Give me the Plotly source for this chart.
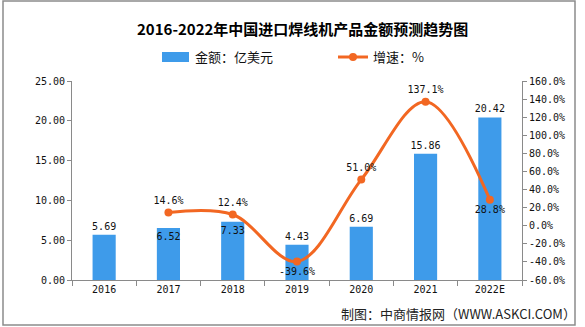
import plotly.graph_objects as go

# Import value of wire bonders (100 million USD) and year-on-year growth (%)
years = ["2016", "2017", "2018", "2019", "2020", "2021", "2022E"]
amount = [5.69, 6.52, 7.33, 4.43, 6.69, 15.86, 20.42]
growth_years = ["2017", "2018", "2019", "2020", "2021", "2022E"]
growth = [14.6, 12.4, -39.6, 51.0, 137.1, 28.8]

title_text = "2016-2022年中国进口焊线机产品金额预测趋势图"
legend_amount = "金额：亿美元"
legend_growth = "增速：%"
source_text = "制图：中商情报网（WWW.ASKCI.COM）"

W, H = 585, 327
ML, MR, MT, MB = 72, 63, 81, 47
PW, PH = W - ML - MR, H - MT - MB

BAR_COLOR = "#3e9bea"
LINE_COLOR = "#f26722"
AXIS_COLOR = "#8a8a8a"
MONO = "DejaVu Sans Mono"
CJK = "Noto Sans CJK SC"


def px_x(px):
    return (px - ML) / PW


def px_y(py):
    return (H - MB - py) / PH


fig = go.Figure()

bar_pos = ["outside", "inside", "inside", "outside", "outside", "outside", "outside"]
fig.add_trace(go.Bar(
    x=years, y=amount, name=legend_amount,
    marker=dict(color=BAR_COLOR, line=dict(width=0)),
    width=0.36,
    text=[f"{v:.2f}" for v in amount],
    textposition=bar_pos,
    insidetextanchor="end",
    textangle=0,
    constraintext="none",
    cliponaxis=False,
    textfont=dict(family=MONO, size=10, color="#111"),
    showlegend=False,
))

line_pos = ["top center", "top center", "bottom center", "top center", "top center", "bottom center"]
fig.add_trace(go.Scatter(
    x=growth_years, y=growth, name=legend_growth, yaxis="y2",
    mode="lines+markers+text",
    line=dict(color=LINE_COLOR, width=3, shape="spline", smoothing=1.0),
    marker=dict(color=LINE_COLOR, size=8),
    text=[f"{v:.1f}%" for v in growth],
    textposition=line_pos,
    cliponaxis=False,
    textfont=dict(family=MONO, size=10, color="#111"),
    showlegend=False,
))

fig.update_layout(
    width=W, height=H,
    margin=dict(l=ML, r=MR, t=MT, b=MB),
    paper_bgcolor="white", plot_bgcolor="white",
    bargap=0.64,
    xaxis=dict(
        type="category", range=[-0.5, 6.5],
        showline=True, linecolor=AXIS_COLOR, linewidth=1,
        ticks="outside", tickson="boundaries", ticklen=5, tickcolor=AXIS_COLOR,
        showgrid=False, zeroline=False,
        tickfont=dict(family=MONO, size=10, color="#111"),
    ),
    yaxis=dict(
        range=[0, 25], dtick=5, tickformat=".2f",
        showline=True, linecolor=AXIS_COLOR, linewidth=1,
        ticks="outside", ticklen=4, tickcolor=AXIS_COLOR,
        showgrid=False, zeroline=False,
        tickfont=dict(family=MONO, size=10, color="#111"),
    ),
    yaxis2=dict(
        range=[-60, 160], overlaying="y", side="right",
        tickvals=list(range(-60, 161, 20)),
        ticktext=[f"{v:.1f}%" for v in range(-60, 161, 20)],
        showline=True, linecolor=AXIS_COLOR, linewidth=1,
        ticks="outside", ticklen=4, tickcolor=AXIS_COLOR,
        showgrid=False, zeroline=False,
        tickfont=dict(family=MONO, size=10, color="#111"),
    ),
    showlegend=False,
)

# Outer frame
fig.add_shape(type="rect", xref="paper", yref="paper",
              x0=px_x(3), x1=px_x(575), y0=px_y(325), y1=px_y(1),
              line=dict(color="#8c8c8c", width=1.5), fillcolor="rgba(0,0,0,0)",
              layer="below")

# Title
fig.add_annotation(text=f"<b>{title_text}</b>", xref="paper", yref="paper",
                   x=px_x(302), y=px_y(29), showarrow=False,
                   xanchor="center", yanchor="middle",
                   font=dict(family=CJK, size=15, color="#000"))

# Legend: bar swatch + label
fig.add_shape(type="rect", xref="paper", yref="paper",
              x0=px_x(162), x1=px_x(189), y0=px_y(62), y1=px_y(52),
              line=dict(width=0), fillcolor=BAR_COLOR)
fig.add_annotation(text=legend_amount, xref="paper", yref="paper",
                   x=px_x(193), y=px_y(57), showarrow=False,
                   xanchor="left", yanchor="middle",
                   font=dict(family=CJK, size=13, color="#111"))

# Legend: line swatch + label
fig.add_shape(type="line", xref="paper", yref="paper",
              x0=px_x(338), x1=px_x(368), y0=px_y(57), y1=px_y(57),
              line=dict(color=LINE_COLOR, width=3))
fig.add_shape(type="circle", xref="paper", yref="paper",
              x0=px_x(349), x1=px_x(357), y0=px_y(61), y1=px_y(53),
              line=dict(width=0), fillcolor=LINE_COLOR)
fig.add_annotation(text=legend_growth, xref="paper", yref="paper",
                   x=px_x(371), y=px_y(57), showarrow=False,
                   xanchor="left", yanchor="middle",
                   font=dict(family=CJK, size=13, color="#111"))

# Source note
fig.add_annotation(text=source_text, xref="paper", yref="paper",
                   x=px_x(578), y=px_y(313), showarrow=False,
                   xanchor="right", yanchor="middle",
                   font=dict(family=CJK, size=13, color="#222"))

fig.write_html("out.html")
